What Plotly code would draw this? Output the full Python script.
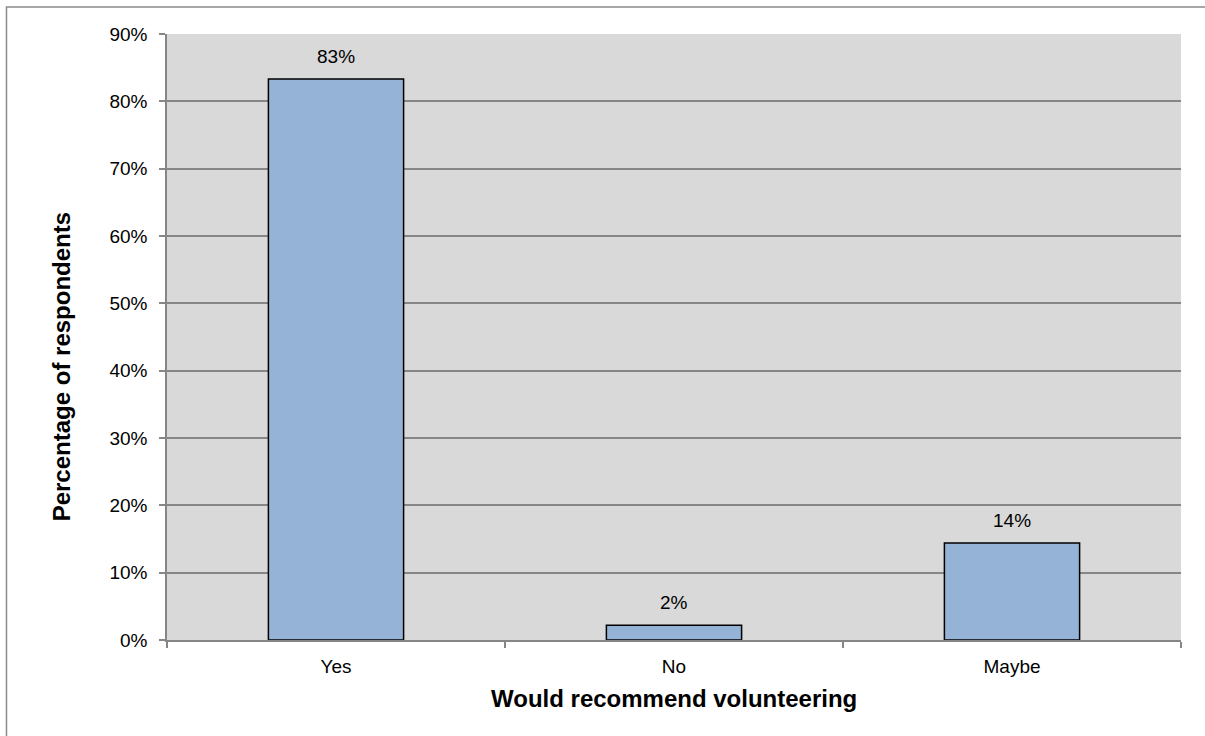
import plotly.graph_objects as go

# Survey responses: would the respondent recommend volunteering?
categories = ["Yes", "No", "Maybe"]
percentages = [83.3, 2.2, 14.4]
bar_labels = ["83%", "2%", "14%"]
y_ticks = [0, 10, 20, 30, 40, 50, 60, 70, 80, 90]
y_tick_labels = ["0%", "10%", "20%", "30%", "40%", "50%", "60%", "70%", "80%", "90%"]
x_title = "Would recommend volunteering"
y_title = "Percentage of respondents"

FONT = "Liberation Sans, Arial, sans-serif"
GRID = "#868686"

fig = go.Figure(
    go.Bar(
        x=categories,
        y=percentages,
        marker=dict(color="#95b3d7", line=dict(color="#000000", width=1.5)),
        width=0.4,
    )
)

# value labels sitting just above each bar
for cat, val, lab in zip(categories, percentages, bar_labels):
    fig.add_annotation(
        x=cat,
        y=val,
        text=lab,
        showarrow=False,
        yanchor="bottom",
        yshift=10,
        font=dict(family=FONT, size=19, color="#000000"),
    )

# axis titles placed as free text
fig.add_annotation(
    xref="paper", yref="paper", x=0.5, y=-0.097,
    text=f"<b>{x_title}</b>", showarrow=False,
    xanchor="center", yanchor="middle",
    font=dict(family=FONT, size=24, color="#000000"),
)
fig.add_annotation(
    xref="paper", yref="paper", x=-0.1045, y=0.45,
    text=f"<b>{y_title}</b>", showarrow=False, textangle=-90,
    xanchor="center", yanchor="middle",
    font=dict(family=FONT, size=24, color="#000000"),
)

fig.update_layout(
    width=1205,
    height=736,
    margin=dict(l=167, r=24, t=34, b=96),
    paper_bgcolor="#ffffff",
    plot_bgcolor="#d9d9d9",
    showlegend=False,
    font=dict(family=FONT, size=19, color="#000000"),
    xaxis=dict(
        showline=True,
        linecolor=GRID,
        linewidth=1.5,
        ticks="outside",
        tickson="boundaries",
        ticklen=6,
        tickcolor=GRID,
        tickwidth=1.5,
        ticklabelstandoff=8,
        showgrid=False,
    ),
    yaxis=dict(
        range=[0, 90],
        tickvals=y_ticks,
        ticktext=y_tick_labels,
        showline=True,
        linecolor=GRID,
        linewidth=1.5,
        ticks="outside",
        ticklen=6,
        tickcolor=GRID,
        tickwidth=1.5,
        ticklabelstandoff=8,
        showgrid=True,
        gridcolor=GRID,
        gridwidth=1.5,
        zeroline=False,
    ),
    shapes=[
        # outer chart frame
        dict(
            type="rect",
            xref="paper",
            yref="paper",
            x0=-0.1583,
            x1=1.2,
            y0=-0.3,
            y1=1.0446,
            line=dict(color="#8a8a8a", width=1.5),
            fillcolor="rgba(0,0,0,0)",
            layer="below",
        )
    ],
)

fig.write_html("out.html")
